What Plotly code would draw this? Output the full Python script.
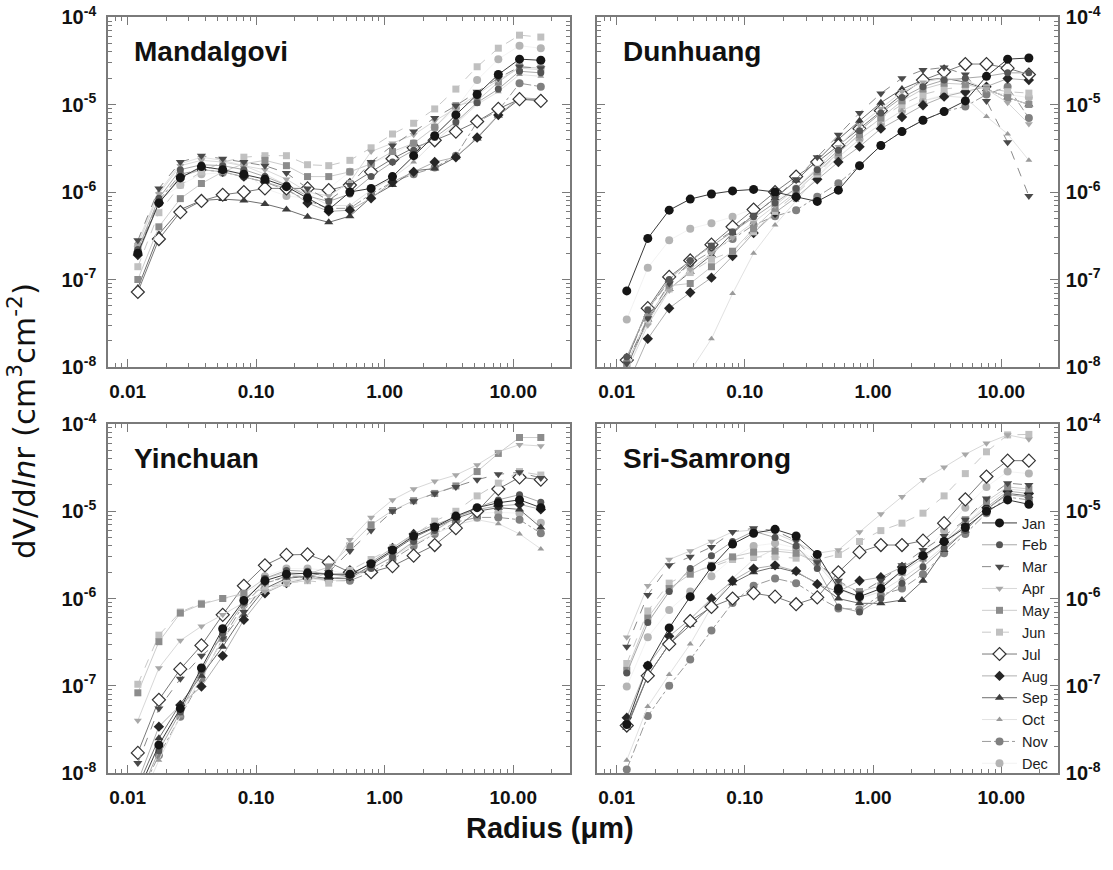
import plotly.graph_objects as go

# ---------------- data ----------------
radius = [0.012, 0.0175, 0.0257, 0.0375, 0.0549, 0.0802, 0.117, 0.172, 0.251, 0.367,
          0.536, 0.784, 1.15, 1.68, 2.45, 3.58, 5.24, 7.66, 11.2, 16.4]
months = ["Jan", "Feb", "Mar", "Apr", "May", "Jun", "Jul", "Aug", "Sep", "Oct", "Nov", "Dec"]
sites = ["Mandalgovi", "Dunhuang", "Yinchuan", "Sri-Samrong"]
x_tick_vals = [0.01, 0.1, 1, 10]
x_tick_text = ["0.01", "0.10", "1.00", "10.00"]
y_tick_vals = [1e-8, 1e-7, 1e-6, 1e-5, 1e-4]
y_tick_text = ["10<sup>-8</sup>", "10<sup>-7</sup>", "10<sup>-6</sup>", "10<sup>-5</sup>", "10<sup>-4</sup>"]

# Mandalgovi
MAN_JAN = [2.0e-7, 7.5e-7, 1.45e-6, 1.95e-6, 1.8e-6, 1.6e-6, 1.4e-6, 1.15e-6, 8.5e-7, 6.3e-7, 1.0e-6, 1.1e-6, 1.5e-6, 2.6e-6, 4.4e-6, 7.6e-6, 1.3e-5, 2.2e-5, 3.3e-5, 3.2e-5]
MAN_FEB = [2.2e-7, 8.5e-7, 1.8e-6, 2.05e-6, 2.0e-6, 1.8e-6, 1.5e-6, 1.2e-6, 9.0e-7, 7.8e-7, 9.5e-7, 1.5e-6, 2.2e-6, 3.0e-6, 4.2e-6, 6.3e-6, 1.05e-5, 1.5e-5, 2.4e-5, 2.3e-5]
MAN_MAR = [2.8e-7, 1.1e-6, 2.2e-6, 2.6e-6, 2.4e-6, 2.2e-6, 2.0e-6, 1.65e-6, 1.1e-6, 8.0e-7, 1.2e-6, 2.2e-6, 3.4e-6, 4.9e-6, 7.0e-6, 9.7e-6, 1.4e-5, 2.0e-5, 2.7e-5, 2.6e-5]
MAN_APR = [2.5e-7, 9.5e-7, 2.0e-6, 2.3e-6, 2.2e-6, 2.0e-6, 1.8e-6, 1.4e-6, 1.0e-6, 9.0e-7, 1.3e-6, 2.9e-6, 3.6e-6, 4.5e-6, 6.5e-6, 9.0e-6, 1.3e-5, 1.9e-5, 2.6e-5, 2.5e-5]
MAN_MAY = [1.0e-7, 4.0e-7, 8.4e-7, 1.25e-6, 1.7e-6, 2.1e-6, 2.3e-6, 2.0e-6, 1.5e-6, 1.5e-6, 1.7e-6, 2.1e-6, 2.9e-6, 3.6e-6, 5.5e-6, 9.7e-6, 1.1e-5, 1.8e-5, 2.7e-5, 2.6e-5]
MAN_JUN = [1.4e-7, 5.8e-7, 1.2e-6, 1.7e-6, 2.2e-6, 2.5e-6, 2.6e-6, 2.6e-6, 2.05e-6, 2.0e-6, 2.3e-6, 3.2e-6, 4.6e-6, 6.1e-6, 8.9e-6, 1.5e-5, 2.7e-5, 4.4e-5, 6.2e-5, 5.9e-5]
MAN_JUL = [7.2e-8, 2.9e-7, 5.9e-7, 7.9e-7, 9.3e-7, 1.0e-6, 1.1e-6, 1.1e-6, 1.1e-6, 1.05e-6, 1.2e-6, 1.7e-6, 2.4e-6, 3.2e-6, 3.9e-6, 4.9e-6, 6.4e-6, 8.9e-6, 1.15e-5, 1.1e-5]
MAN_AUG = [1.9e-7, 7.5e-7, 1.5e-6, 1.8e-6, 1.7e-6, 1.5e-6, 1.3e-6, 1.1e-6, 7.5e-7, 6.0e-7, 6.2e-7, 8.5e-7, 1.3e-6, 1.7e-6, 2.2e-6, 2.5e-6, 4.2e-6, 7.6e-6, 1.2e-5, 1.15e-5]
MAN_SEP = [8.0e-8, 3.3e-7, 6.3e-7, 8.0e-7, 8.3e-7, 8.0e-7, 7.3e-7, 6.3e-7, 5.2e-7, 4.5e-7, 5.3e-7, 8.7e-7, 1.2e-6, 1.75e-6, 1.85e-6, 2.5e-6, 4.1e-6, 7.5e-6, 1.15e-5, 1.15e-5]
MAN_OCT = [2.7e-7, 1.0e-6, 2.1e-6, 2.5e-6, 2.3e-6, 2.0e-6, 1.6e-6, 1.2e-6, 9.5e-7, 7.0e-7, 7.0e-7, 1.05e-6, 1.45e-6, 2.2e-6, 3.8e-6, 6.0e-6, 1.0e-5, 1.4e-5, 2.2e-5, 2.1e-5]
MAN_NOV = [2.1e-7, 8.0e-7, 1.6e-6, 1.8e-6, 1.7e-6, 1.5e-6, 1.3e-6, 1.05e-6, 8.0e-7, 6.5e-7, 6.5e-7, 9.5e-7, 1.3e-6, 1.6e-6, 1.9e-6, 2.6e-6, 6.3e-6, 8.5e-6, 1.75e-5, 1.6e-5]
MAN_DEC = [2.4e-7, 8.0e-7, 1.2e-6, 1.6e-6, 1.65e-6, 1.7e-6, 1.1e-6, 9.0e-7, 8.5e-7, 1.1e-6, 1.7e-6, 2.1e-6, 2.7e-6, 3.6e-6, 5.5e-6, 9.0e-6, 1.9e-5, 3.3e-5, 4.7e-5, 4.4e-5]

# Dunhuang
DUN_JAN = [7.4e-8, 2.95e-7, 6.2e-7, 8.3e-7, 9.5e-7, 1.03e-6, 1.07e-6, 1.0e-6, 8.8e-7, 7.8e-7, 1.05e-6, 2.0e-6, 3.4e-6, 4.9e-6, 6.6e-6, 8.3e-6, 1.1e-5, 2.1e-5, 3.3e-5, 3.4e-5]
DUN_FEB = [1.3e-8, 4.5e-8, 1.0e-7, 1.65e-7, 2.4e-7, 3.5e-7, 5.2e-7, 7.5e-7, 1.1e-6, 1.8e-6, 3.0e-6, 5.0e-6, 8.0e-6, 1.2e-5, 1.6e-5, 1.9e-5, 2.0e-5, 2.1e-5, 2.3e-5, 2.3e-5]
DUN_MAR = [1.1e-8, 3.6e-8, 9.0e-8, 1.6e-7, 2.5e-7, 3.6e-7, 5.5e-7, 8.5e-7, 1.4e-6, 2.5e-6, 4.5e-6, 8.0e-6, 1.34e-5, 2.0e-5, 2.48e-5, 2.65e-5, 2.2e-5, 1.1e-5, 3.7e-6, 9.0e-7]
DUN_APR = [9.0e-9, 3.0e-8, 7.5e-8, 1.3e-7, 2.0e-7, 3.0e-7, 4.5e-7, 7.0e-7, 1.1e-6, 1.9e-6, 3.3e-6, 5.8e-6, 9.0e-6, 1.4e-5, 1.8e-5, 2.0e-5, 1.9e-5, 1.5e-5, 1.05e-5, 6.0e-6]
DUN_MAY = [1.1e-8, 3.7e-8, 8.5e-8, 9.0e-8, 1.4e-7, 2.1e-7, 3.8e-7, 6.5e-7, 1.0e-6, 1.7e-6, 2.8e-6, 4.5e-6, 7.0e-6, 1.1e-5, 1.5e-5, 1.75e-5, 1.7e-5, 1.5e-5, 1.2e-5, 1.0e-5]
DUN_JUN = [1.0e-8, 3.3e-8, 7.8e-8, 1.2e-7, 1.7e-7, 2.1e-7, 3.5e-7, 6.0e-7, 9.5e-7, 1.6e-6, 2.8e-6, 4.6e-6, 7.0e-6, 1.0e-5, 1.3e-5, 1.5e-5, 1.6e-5, 1.55e-5, 1.4e-5, 1.35e-5]
DUN_JUL = [1.2e-8, 4.7e-8, 1.07e-7, 1.65e-7, 2.5e-7, 4.0e-7, 6.3e-7, 1.0e-6, 1.5e-6, 2.2e-6, 3.4e-6, 5.3e-6, 8.5e-6, 1.3e-5, 1.9e-5, 2.37e-5, 2.9e-5, 2.9e-5, 2.6e-5, 2.2e-5]
DUN_AUG = [6.0e-9, 2.1e-8, 4.7e-8, 7.1e-8, 1.05e-7, 1.85e-7, 3.4e-7, 5.8e-7, 8.7e-7, 1.4e-6, 2.2e-6, 3.3e-6, 5.3e-6, 7.2e-6, 9.8e-6, 1.23e-5, 1.4e-5, 1.6e-5, 1.98e-5, 1.9e-5]
DUN_SEP = [1.0e-8, 3.5e-8, 7.8e-8, 1.23e-7, 1.9e-7, 3.4e-7, 5.5e-7, 8.5e-7, 1.35e-6, 2.3e-6, 4.0e-6, 6.5e-6, 1.05e-5, 1.5e-5, 1.9e-5, 2.0e-5, 1.8e-5, 1.5e-5, 1.2e-5, 1.0e-5]
DUN_OCT = [1.0e-9, 2.0e-9, 4.0e-9, 9.0e-9, 2.1e-8, 6.9e-8, 2.0e-7, 4.2e-7, 8.0e-7, 1.5e-6, 2.5e-6, 4.0e-6, 6.0e-6, 8.5e-6, 1.1e-5, 1.25e-5, 1.2e-5, 7.3e-6, 4.6e-6, 2.3e-6]
DUN_NOV = [1.2e-8, 4.5e-8, 9.5e-8, 1.5e-7, 2.1e-7, 2.9e-7, 4.2e-7, 5.3e-7, 6.2e-7, 8.8e-7, 1.26e-6, 2.0e-6, 3.4e-6, 4.9e-6, 6.6e-6, 8.3e-6, 9.5e-6, 1.3e-5, 1.6e-5, 7.0e-6]
DUN_DEC = [3.5e-8, 1.36e-7, 2.8e-7, 3.8e-7, 4.4e-7, 5.2e-7, 6.5e-7, 8.0e-7, 1.1e-6, 1.6e-6, 2.5e-6, 4.0e-6, 6.0e-6, 8.5e-6, 1.1e-5, 1.3e-5, 1.4e-5, 1.4e-5, 1.3e-5, 1.2e-5]

# Yinchuan
YIN_JAN = [6.0e-9, 2.1e-8, 5.5e-8, 1.6e-7, 4.5e-7, 9.5e-7, 1.6e-6, 1.9e-6, 1.95e-6, 1.9e-6, 1.9e-6, 2.5e-6, 3.6e-6, 5.2e-6, 6.6e-6, 8.8e-6, 1.1e-5, 1.25e-5, 1.35e-5, 1.1e-5]
YIN_FEB = [5.0e-9, 1.8e-8, 5.0e-8, 1.5e-7, 4.0e-7, 9.0e-7, 1.7e-6, 2.1e-6, 2.05e-6, 1.9e-6, 1.8e-6, 2.2e-6, 3.0e-6, 4.5e-6, 6.0e-6, 8.5e-6, 1.1e-5, 1.35e-5, 1.55e-5, 1.27e-5]
YIN_MAR = [1.3e-8, 5.5e-8, 1.2e-7, 2.2e-7, 3.5e-7, 7.0e-7, 1.5e-6, 1.8e-6, 1.8e-6, 2.0e-6, 3.5e-6, 6.0e-6, 1.0e-5, 1.3e-5, 1.6e-5, 1.9e-5, 2.3e-5, 2.65e-5, 2.8e-5, 2.4e-5]
YIN_APR = [4.0e-8, 1.6e-7, 3.3e-7, 4.8e-7, 6.5e-7, 9.0e-7, 1.2e-6, 1.5e-6, 1.6e-6, 2.0e-6, 4.7e-6, 8.5e-6, 1.35e-5, 1.8e-5, 2.2e-5, 2.6e-5, 3.4e-5, 4.8e-5, 5.8e-5, 5.6e-5]
YIN_MAY = [8.3e-8, 3.2e-7, 6.8e-7, 8.6e-7, 1.0e-6, 1.15e-6, 1.7e-6, 2.0e-6, 1.9e-6, 2.3e-6, 4.0e-6, 7.0e-6, 1.02e-5, 1.32e-5, 1.6e-5, 1.95e-5, 2.85e-5, 4.6e-5, 7.0e-5, 7.0e-5]
YIN_JUN = [1.04e-7, 3.8e-7, 7.0e-7, 8.8e-7, 1.0e-6, 1.1e-6, 1.3e-6, 1.5e-6, 1.6e-6, 1.5e-6, 2.1e-6, 2.8e-6, 3.8e-6, 5.3e-6, 7.7e-6, 1.0e-5, 1.5e-5, 2.1e-5, 2.85e-5, 2.6e-5]
YIN_JUL = [1.7e-8, 6.9e-8, 1.55e-7, 2.9e-7, 6.5e-7, 1.4e-6, 2.4e-6, 3.16e-6, 3.2e-6, 2.6e-6, 2.0e-6, 2.0e-6, 2.35e-6, 3.1e-6, 4.1e-6, 6.4e-6, 1.0e-5, 1.8e-5, 2.45e-5, 2.3e-5]
YIN_AUG = [8.0e-9, 3.4e-8, 6.0e-8, 9.8e-8, 2.2e-7, 5.7e-7, 1.15e-6, 1.5e-6, 1.7e-6, 1.7e-6, 1.8e-6, 2.6e-6, 3.8e-6, 5.5e-6, 7.0e-6, 8.5e-6, 1.05e-5, 1.15e-5, 1.2e-5, 1.05e-5]
YIN_SEP = [7.0e-9, 2.5e-8, 6.2e-8, 1.3e-7, 2.8e-7, 6.5e-7, 1.3e-6, 1.7e-6, 1.8e-6, 1.7e-6, 1.7e-6, 2.4e-6, 3.5e-6, 5.0e-6, 6.5e-6, 8.3e-6, 1.0e-5, 1.1e-5, 1.05e-5, 6.5e-6]
YIN_OCT = [4.0e-9, 1.4e-8, 4.5e-8, 1.3e-7, 3.3e-7, 7.5e-7, 1.3e-6, 1.6e-6, 1.7e-6, 1.6e-6, 1.65e-6, 2.2e-6, 3.0e-6, 4.2e-6, 5.5e-6, 7.0e-6, 8.0e-6, 7.2e-6, 5.5e-6, 3.7e-6]
YIN_NOV = [5.0e-9, 1.6e-8, 4.4e-8, 1.2e-7, 3.5e-7, 8.5e-7, 1.5e-6, 1.75e-6, 1.75e-6, 1.6e-6, 1.6e-6, 2.0e-6, 2.8e-6, 4.0e-6, 5.5e-6, 7.5e-6, 8.5e-6, 8.5e-6, 8.0e-6, 5.6e-6]
YIN_DEC = [6.0e-9, 2.0e-8, 5.2e-8, 1.4e-7, 4.3e-7, 1.0e-6, 1.8e-6, 2.2e-6, 2.2e-6, 2.1e-6, 1.9e-6, 2.3e-6, 3.2e-6, 4.5e-6, 6.0e-6, 8.0e-6, 9.5e-6, 9.7e-6, 9.5e-6, 7.4e-6]

# Sri-Samrong
SRI_JAN = [3.6e-8, 1.7e-7, 4.6e-7, 1.05e-6, 2.3e-6, 4.2e-6, 5.6e-6, 6.2e-6, 5.2e-6, 3.2e-6, 1.3e-6, 1.05e-6, 1.3e-6, 2.1e-6, 3.1e-6, 4.5e-6, 6.5e-6, 1.0e-5, 1.35e-5, 1.2e-5]
SRI_FEB = [1.4e-7, 5.3e-7, 1.2e-6, 2.2e-6, 3.1e-6, 4.5e-6, 5.9e-6, 5.0e-6, 4.0e-6, 2.2e-6, 8.0e-7, 7.0e-7, 1.0e-6, 1.5e-6, 2.3e-6, 3.8e-6, 6.0e-6, 1.05e-5, 1.55e-5, 1.45e-5]
SRI_MAR = [2.8e-7, 1.1e-6, 2.4e-6, 3.0e-6, 3.9e-6, 5.8e-6, 6.4e-6, 6.0e-6, 4.6e-6, 2.6e-6, 1.6e-6, 1.15e-6, 1.6e-6, 2.4e-6, 3.6e-6, 5.2e-6, 8.0e-6, 1.4e-5, 2.1e-5, 2.0e-5]
SRI_APR = [3.6e-7, 1.4e-6, 2.8e-6, 3.5e-6, 4.5e-6, 5.8e-6, 6.1e-6, 5.6e-6, 4.4e-6, 3.3e-6, 3.6e-6, 5.8e-6, 9.3e-6, 1.47e-5, 2.3e-5, 3.2e-5, 4.5e-5, 6.0e-5, 7.5e-5, 6.7e-5]
SRI_MAY = [1.5e-7, 6.0e-7, 1.3e-6, 1.9e-6, 2.4e-6, 3.0e-6, 3.4e-6, 3.5e-6, 3.3e-6, 2.6e-6, 1.5e-6, 1.2e-6, 1.4e-6, 2.0e-6, 2.9e-6, 4.5e-6, 8.0e-6, 1.3e-5, 1.9e-5, 1.8e-5]
SRI_JUN = [1.8e-7, 7.2e-7, 1.5e-6, 2.0e-6, 2.3e-6, 2.8e-6, 3.0e-6, 3.0e-6, 2.9e-6, 2.8e-6, 3.2e-6, 4.5e-6, 6.0e-6, 7.3e-6, 9.5e-6, 1.5e-5, 2.7e-5, 4.8e-5, 7.5e-5, 7.6e-5]
SRI_JUL = [3.5e-8, 1.3e-7, 3.0e-7, 5.5e-7, 8.0e-7, 1.0e-6, 1.15e-6, 1.05e-6, 8.6e-7, 1.03e-6, 2.0e-6, 3.4e-6, 4.1e-6, 4.1e-6, 4.6e-6, 7.3e-6, 1.37e-5, 2.5e-5, 3.8e-5, 3.8e-5]
SRI_AUG = [4.3e-8, 1.7e-7, 3.7e-7, 5.8e-7, 1.0e-6, 1.6e-6, 2.2e-6, 2.4e-6, 2.06e-6, 1.46e-6, 1.2e-6, 1.6e-6, 1.75e-6, 2.3e-6, 3.0e-6, 4.4e-6, 7.0e-6, 1.1e-5, 1.7e-5, 1.6e-5]
SRI_SEP = [3.3e-8, 1.3e-7, 3.0e-7, 5.0e-7, 8.2e-7, 1.5e-6, 2.0e-6, 2.3e-6, 2.0e-6, 1.5e-6, 1.0e-6, 8.8e-7, 8.8e-7, 9.6e-7, 1.6e-6, 3.6e-6, 6.0e-6, 1.05e-5, 1.6e-5, 1.5e-5]
SRI_OCT = [1.4e-8, 5.8e-8, 1.35e-7, 3.0e-7, 8.0e-7, 1.7e-6, 2.8e-6, 3.7e-6, 3.5e-6, 2.5e-6, 1.3e-6, 1.0e-6, 1.2e-6, 1.7e-6, 2.5e-6, 4.0e-6, 7.0e-6, 1.2e-5, 1.8e-5, 1.7e-5]
SRI_NOV = [1.1e-8, 4.5e-8, 1.0e-7, 2.0e-7, 4.3e-7, 8.9e-7, 1.4e-6, 1.7e-6, 1.5e-6, 1.05e-6, 7.7e-7, 7.5e-7, 1.1e-6, 1.3e-6, 1.9e-6, 3.3e-6, 5.5e-6, 9.5e-6, 1.45e-5, 1.35e-5]
SRI_DEC = [9.8e-8, 3.6e-7, 7.4e-7, 1.2e-6, 1.8e-6, 2.9e-6, 4.0e-6, 4.3e-6, 3.8e-6, 2.6e-6, 1.4e-6, 1.0e-6, 1.3e-6, 2.0e-6, 3.2e-6, 6.0e-6, 1.1e-5, 1.9e-5, 2.85e-5, 2.7e-5]

site_series = {
    "Mandalgovi": [MAN_JAN, MAN_FEB, MAN_MAR, MAN_APR, MAN_MAY, MAN_JUN, MAN_JUL, MAN_AUG, MAN_SEP, MAN_OCT, MAN_NOV, MAN_DEC],
    "Dunhuang": [DUN_JAN, DUN_FEB, DUN_MAR, DUN_APR, DUN_MAY, DUN_JUN, DUN_JUL, DUN_AUG, DUN_SEP, DUN_OCT, DUN_NOV, DUN_DEC],
    "Yinchuan": [YIN_JAN, YIN_FEB, YIN_MAR, YIN_APR, YIN_MAY, YIN_JUN, YIN_JUL, YIN_AUG, YIN_SEP, YIN_OCT, YIN_NOV, YIN_DEC],
    "Sri-Samrong": [SRI_JAN, SRI_FEB, SRI_MAR, SRI_APR, SRI_MAY, SRI_JUN, SRI_JUL, SRI_AUG, SRI_SEP, SRI_OCT, SRI_NOV, SRI_DEC],
}

# ---------------- styles ----------------
styles = {
    "Jan": dict(symbol="circle", size=9, color="#151515", lcolor="#3a3a3a", dash="solid", lw=1.0, ol="#151515"),
    "Feb": dict(symbol="circle", size=7, color="#555555", lcolor="#a8a8a8", dash="solid", lw=1.0, ol="#555555"),
    "Mar": dict(symbol="triangle-down", size=8, color="#4a4a4a", lcolor="#8a8a8a", dash="dash", lw=1.0, ol="#4a4a4a"),
    "Apr": dict(symbol="triangle-down", size=7, color="#a8a8a8", lcolor="#d8d8d8", dash="solid", lw=1.0, ol="#a8a8a8"),
    "May": dict(symbol="square", size=7, color="#8c8c8c", lcolor="#cccccc", dash="solid", lw=1.0, ol="#8c8c8c"),
    "Jun": dict(symbol="square", size=7, color="#c0c0c0", lcolor="#c8c8c8", dash="dash", lw=1.0, ol="#c0c0c0"),
    "Jul": dict(symbol="diamond", size=10, color="#ffffff", lcolor="#7a7a7a", dash="solid", lw=1.0, ol="#333333"),
    "Aug": dict(symbol="diamond", size=8, color="#262626", lcolor="#b0b0b0", dash="solid", lw=1.0, ol="#262626"),
    "Sep": dict(symbol="triangle-up", size=8, color="#3c3c3c", lcolor="#6e6e6e", dash="solid", lw=1.0, ol="#3c3c3c"),
    "Oct": dict(symbol="triangle-up", size=6, color="#9a9a9a", lcolor="#e2e2e2", dash="solid", lw=1.0, ol="#9a9a9a"),
    "Nov": dict(symbol="circle", size=8, color="#808080", lcolor="#9a9a9a", dash="dashdot", lw=1.0, ol="#808080"),
    "Dec": dict(symbol="circle", size=8, color="#b4b4b4", lcolor="#efefef", dash="solid", lw=0.8, ol="#b4b4b4"),
}

# ---------------- layout geometry (pixels) ----------------
W, H = 1113, 870
panels = [
    dict(site="Mandalgovi", x0=108, x1=570, y0=17, y1=367, side="left"),
    dict(site="Dunhuang", x0=597, x1=1058, y0=17, y1=367, side="right"),
    dict(site="Yinchuan", x0=108, x1=570, y0=424, y1=773, side="left"),
    dict(site="Sri-Samrong", x0=597, x1=1058, y0=424, y1=773, side="right"),
]
x_range = [-2.153, 1.442]
y_range = [-8, -4]
AXC = "#7a7a7a"
FONT = "Liberation Sans, Arial, sans-serif"

x_minor = [m * 10 ** e for e in range(-3, 2) for m in range(2, 10)]
y_minor = [m * 10 ** e for e in range(-8, -4) for m in range(2, 10)]

fig = go.Figure()
layout = dict(
    width=W, height=H,
    margin=dict(l=0, r=0, t=0, b=0, autoexpand=False),
    paper_bgcolor="white", plot_bgcolor="white",
    showlegend=True,
    font=dict(family=FONT, color="#111"),
)
annotations = []

for i, p in enumerate(panels):
    n = "" if i == 0 else str(i + 1)
    xa, ya = "xaxis" + n, "yaxis" + n
    xr, yr = "x" + n, "y" + n
    layout[xa] = dict(
        domain=[p["x0"] / W, p["x1"] / W], anchor=yr, type="log", range=x_range,
        automargin=False,
        tickmode="array", tickvals=x_tick_vals, ticktext=x_tick_text,
        ticks="inside", ticklen=8, tickwidth=1.2, tickcolor=AXC,
        showline=True, linecolor=AXC, linewidth=1.6, mirror="allticks",
        showgrid=False, zeroline=False,
        tickfont=dict(family=FONT, size=19, color="#111", weight="bold"),
        ticklabelstandoff=6,
        minor=dict(tickmode="array", tickvals=x_minor, ticks="inside", ticklen=4,
                   tickwidth=1, tickcolor=AXC, showgrid=False),
    )
    layout[ya] = dict(
        domain=[1 - p["y1"] / H, 1 - p["y0"] / H], anchor=xr, type="log", range=y_range,
        automargin=False, side=p["side"],
        tickmode="array", tickvals=y_tick_vals, ticktext=y_tick_text,
        ticks="inside", ticklen=8, tickwidth=1.2, tickcolor=AXC,
        showline=True, linecolor=AXC, linewidth=1.6, mirror="allticks",
        showgrid=False, zeroline=False,
        tickfont=dict(family=FONT, size=20, color="#111", weight="bold"),
        ticklabelstandoff=6 if p["side"] == "left" else 2,
        minor=dict(tickmode="array", tickvals=y_minor, ticks="inside", ticklen=4,
                   tickwidth=1, tickcolor=AXC, showgrid=False),
    )
    series = site_series[p["site"]]
    # draw Dec first so that Jan ends up on top; legend shows Jan..Dec (reversed order)
    for mi in range(len(months) - 1, -1, -1):
        m = months[mi]
        s = styles[m]
        fig.add_trace(go.Scatter(
            x=radius, y=series[mi], mode="lines+markers", name=m,
            xaxis=xr, yaxis=yr,
            showlegend=(i == 3),
            line=dict(color=s["lcolor"], width=s["lw"], dash=s["dash"]),
            marker=dict(symbol=s["symbol"], size=s["size"], color=s["color"],
                        line=dict(color=s["ol"], width=1.2 if m == "Jul" else 0)),
        ))
    annotations.append(dict(
        text="<b>%s</b>" % p["site"], xref=xr + " domain", yref=yr + " domain",
        x=24 / (p["x1"] - p["x0"]), y=1 - 35 / (p["y1"] - p["y0"]),
        xanchor="left", yanchor="middle", showarrow=False,
        font=dict(family=FONT, size=28, color="#111"),
    ))

annotations.append(dict(
    text="dV/d<i>ln</i>r (cm<sup>3</sup>cm<sup>-2</sup>)", xref="paper", yref="paper",
    x=22 / W, y=1 - 421 / H, xanchor="center", yanchor="middle", textangle=-90,
    showarrow=False, font=dict(family="DejaVu Sans, Liberation Sans, sans-serif", size=31, color="#111"),
))
annotations.append(dict(
    text="<b>Radius (\u03bcm)</b>", xref="paper", yref="paper",
    x=550 / W, y=1 - 828 / H, xanchor="center", yanchor="middle",
    showarrow=False, font=dict(family=FONT, size=29, color="#111"),
))
layout["annotations"] = annotations
layout["legend"] = dict(
    x=977 / W, y=1 - 507 / H, xanchor="left", yanchor="top",
    bgcolor="rgba(0,0,0,0)", borderwidth=0, traceorder="reversed",
    font=dict(family=FONT, size=14.5, color="#222"), tracegroupgap=0, itemwidth=35,
)
fig.update_layout(**layout)
fig.write_html("out.html")
